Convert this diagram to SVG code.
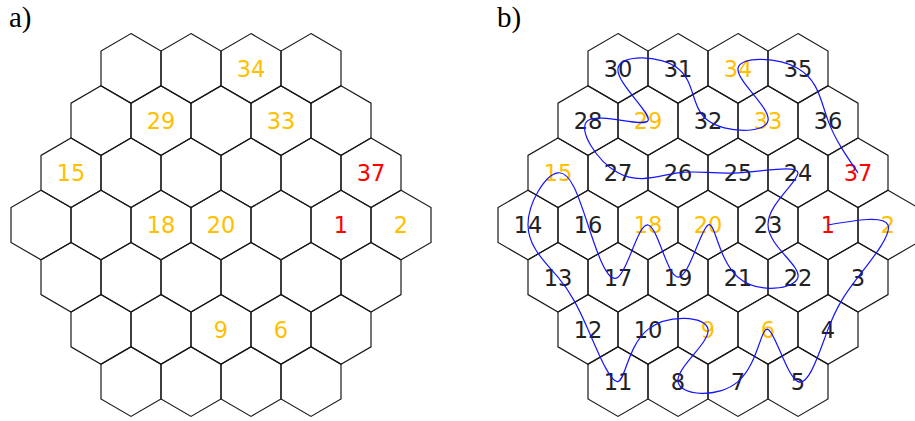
<svg xmlns="http://www.w3.org/2000/svg" xmlns:xlink="http://www.w3.org/1999/xlink" width="915" height="421" viewBox="0 0 915 421">
<style>
.h{fill:none;stroke:#1a1a1a;stroke-width:1.2;stroke-linejoin:miter}
.t{font-family:"DejaVu Sans",sans-serif;font-size:22.5px;text-anchor:middle;fill:#222}
.o{fill:#ffbf00}
.r{fill:#ff0000}
.lab{font-family:"Liberation Serif",serif;font-size:29px;fill:#000}
.c{fill:none;stroke:#1414ff;stroke-width:1.2}
</style>
<defs>
<polygon id="hex" class="h" points="0,-34.8 30,-17.4 30,17.4 0,34.8 -30,17.4 -30,-17.4"/>
</defs>
<rect width="915" height="421" fill="#fff"/>
<text class="lab" x="9" y="27">a)</text>
<text class="lab" x="497" y="27">b)</text>
<g id="gridA">
<g id="a1"><use href="#hex" x="131" y="68.4"/></g>
<g id="a2"><use href="#hex" x="191" y="68.4"/></g>
<g id="a3"><use href="#hex" x="251" y="68.4"/><text class="t o" x="251" y="76.7">34</text></g>
<g id="a4"><use href="#hex" x="311" y="68.4"/></g>
<g id="a5"><use href="#hex" x="101" y="120.6"/></g>
<g id="a6"><use href="#hex" x="161" y="120.6"/><text class="t o" x="161" y="128.9">29</text></g>
<g id="a7"><use href="#hex" x="221" y="120.6"/></g>
<g id="a8"><use href="#hex" x="281" y="120.6"/><text class="t o" x="281" y="128.9">33</text></g>
<g id="a9"><use href="#hex" x="341" y="120.6"/></g>
<g id="a10"><use href="#hex" x="71" y="172.8"/><text class="t o" x="71" y="181.1">15</text></g>
<g id="a11"><use href="#hex" x="131" y="172.8"/></g>
<g id="a12"><use href="#hex" x="191" y="172.8"/></g>
<g id="a13"><use href="#hex" x="251" y="172.8"/></g>
<g id="a14"><use href="#hex" x="311" y="172.8"/></g>
<g id="a15"><use href="#hex" x="371" y="172.8"/><text class="t r" x="371" y="181.1">37</text></g>
<g id="a16"><use href="#hex" x="41" y="225"/></g>
<g id="a17"><use href="#hex" x="101" y="225"/></g>
<g id="a18"><use href="#hex" x="161" y="225"/><text class="t o" x="161" y="233.3">18</text></g>
<g id="a19"><use href="#hex" x="221" y="225"/><text class="t o" x="221" y="233.3">20</text></g>
<g id="a20"><use href="#hex" x="281" y="225"/></g>
<g id="a21"><use href="#hex" x="341" y="225"/><text class="t r" x="341" y="233.3">1</text></g>
<g id="a22"><use href="#hex" x="401" y="225"/><text class="t o" x="401" y="233.3">2</text></g>
<g id="a23"><use href="#hex" x="71" y="277.2"/></g>
<g id="a24"><use href="#hex" x="131" y="277.2"/></g>
<g id="a25"><use href="#hex" x="191" y="277.2"/></g>
<g id="a26"><use href="#hex" x="251" y="277.2"/></g>
<g id="a27"><use href="#hex" x="311" y="277.2"/></g>
<g id="a28"><use href="#hex" x="371" y="277.2"/></g>
<g id="a29"><use href="#hex" x="101" y="329.4"/></g>
<g id="a30"><use href="#hex" x="161" y="329.4"/></g>
<g id="a31"><use href="#hex" x="221" y="329.4"/><text class="t o" x="221" y="337.7">9</text></g>
<g id="a32"><use href="#hex" x="281" y="329.4"/><text class="t o" x="281" y="337.7">6</text></g>
<g id="a33"><use href="#hex" x="341" y="329.4"/></g>
<g id="a34"><use href="#hex" x="131" y="381.6"/></g>
<g id="a35"><use href="#hex" x="191" y="381.6"/></g>
<g id="a36"><use href="#hex" x="251" y="381.6"/></g>
<g id="a37"><use href="#hex" x="311" y="381.6"/></g>
</g>
<g id="gridB">
<g id="b30"><use href="#hex" x="618" y="68.4"/><text class="t" x="618" y="76.7">30</text></g>
<g id="b31"><use href="#hex" x="678" y="68.4"/><text class="t" x="678" y="76.7">31</text></g>
<g id="b34"><use href="#hex" x="738" y="68.4"/><text class="t o" x="738" y="76.7">34</text></g>
<g id="b35"><use href="#hex" x="798" y="68.4"/><text class="t" x="798" y="76.7">35</text></g>
<g id="b28"><use href="#hex" x="588" y="120.6"/><text class="t" x="588" y="128.9">28</text></g>
<g id="b29"><use href="#hex" x="648" y="120.6"/><text class="t o" x="648" y="128.9">29</text></g>
<g id="b32"><use href="#hex" x="708" y="120.6"/><text class="t" x="708" y="128.9">32</text></g>
<g id="b33"><use href="#hex" x="768" y="120.6"/><text class="t o" x="768" y="128.9">33</text></g>
<g id="b36"><use href="#hex" x="828" y="120.6"/><text class="t" x="828" y="128.9">36</text></g>
<g id="b15"><use href="#hex" x="558" y="172.8"/><text class="t o" x="558" y="181.1">15</text></g>
<g id="b27"><use href="#hex" x="618" y="172.8"/><text class="t" x="618" y="181.1">27</text></g>
<g id="b26"><use href="#hex" x="678" y="172.8"/><text class="t" x="678" y="181.1">26</text></g>
<g id="b25"><use href="#hex" x="738" y="172.8"/><text class="t" x="738" y="181.1">25</text></g>
<g id="b24"><use href="#hex" x="798" y="172.8"/><text class="t" x="798" y="181.1">24</text></g>
<g id="b37"><use href="#hex" x="858" y="172.8"/><text class="t r" x="858" y="181.1">37</text></g>
<g id="b14"><use href="#hex" x="528" y="225"/><text class="t" x="528" y="233.3">14</text></g>
<g id="b16"><use href="#hex" x="588" y="225"/><text class="t" x="588" y="233.3">16</text></g>
<g id="b18"><use href="#hex" x="648" y="225"/><text class="t o" x="648" y="233.3">18</text></g>
<g id="b20"><use href="#hex" x="708" y="225"/><text class="t o" x="708" y="233.3">20</text></g>
<g id="b23"><use href="#hex" x="768" y="225"/><text class="t" x="768" y="233.3">23</text></g>
<g id="b1"><use href="#hex" x="828" y="225"/><text class="t r" x="828" y="233.3">1</text></g>
<g id="b2"><use href="#hex" x="888" y="225"/><text class="t o" x="888" y="233.3">2</text></g>
<g id="b13"><use href="#hex" x="558" y="277.2"/><text class="t" x="558" y="285.5">13</text></g>
<g id="b17"><use href="#hex" x="618" y="277.2"/><text class="t" x="618" y="285.5">17</text></g>
<g id="b19"><use href="#hex" x="678" y="277.2"/><text class="t" x="678" y="285.5">19</text></g>
<g id="b21"><use href="#hex" x="738" y="277.2"/><text class="t" x="738" y="285.5">21</text></g>
<g id="b22"><use href="#hex" x="798" y="277.2"/><text class="t" x="798" y="285.5">22</text></g>
<g id="b3"><use href="#hex" x="858" y="277.2"/><text class="t" x="858" y="285.5">3</text></g>
<g id="b12"><use href="#hex" x="588" y="329.4"/><text class="t" x="588" y="337.7">12</text></g>
<g id="b10"><use href="#hex" x="648" y="329.4"/><text class="t" x="648" y="337.7">10</text></g>
<g id="b9"><use href="#hex" x="708" y="329.4"/><text class="t o" x="708" y="337.7">9</text></g>
<g id="b6"><use href="#hex" x="768" y="329.4"/><text class="t o" x="768" y="337.7">6</text></g>
<g id="b4"><use href="#hex" x="828" y="329.4"/><text class="t" x="828" y="337.7">4</text></g>
<g id="b11"><use href="#hex" x="618" y="381.6"/><text class="t" x="618" y="389.9">11</text></g>
<g id="b8"><use href="#hex" x="678" y="381.6"/><text class="t" x="678" y="389.9">8</text></g>
<g id="b7"><use href="#hex" x="738" y="381.6"/><text class="t" x="738" y="389.9">7</text></g>
<g id="b5"><use href="#hex" x="798" y="381.6"/><text class="t" x="798" y="389.9">5</text></g>
</g>
<g id="connectors">
<path class="c" d="M828,225 C856,220.1 884.1,215.2 888,225 C891.9,234.8 871.8,259.3 858,277.2 C844.2,295.1 836.8,306.5 828,329.4 C819.2,352.3 809,386.5 798,381.6 C787,376.7 775.2,332.5 768,329.4 C760.8,326.3 758.2,364.3 738,381.6 C717.8,398.9 680,395.6 678,381.6 C676,367.6 710,343 708,329.4 C706,315.8 668.1,313.4 648,329.4 C627.9,345.4 625.5,379.9 618,381.6 C610.5,383.3 598,352.2 588,329.4 C578,306.6 570.5,292.1 558,277.2 C545.5,262.3 528.1,247 528,225 C527.9,203 545.3,174.4 558,172.8 C570.7,171.2 578.7,196.6 588,225 C597.3,253.4 607.7,284.7 618,277.2 C628.3,269.7 638.2,223.3 648,225 C657.8,226.7 667.3,276.5 678,277.2 C688.7,277.9 700.7,229.5 708,225 C715.3,220.5 718,260 738,277.2 C758,294.4 795.4,289.3 798,277.2 C800.6,265.1 768.4,246 768,225 C767.6,204 799.1,180.9 798,172.8 C796.9,164.7 763.1,171.4 738,172.8 C712.9,174.2 696.5,170.2 678,172.8 C659.5,175.4 638.8,184.4 618,172.8 C597.2,161.2 576.3,128.9 588,120.6 C599.7,112.3 643.9,127.9 648,120.6 C652.1,113.3 615.9,83 618,68.4 C620.1,53.8 660.4,54.9 678,68.4 C695.6,81.9 690.6,107.6 708,120.6 C725.4,133.6 765.3,133.7 768,120.6 C770.7,107.5 736.2,81 738,68.4 C739.8,55.8 777.7,57 798,68.4 C818.3,79.8 820.9,101.5 828,120.6 C835.1,139.7 846.5,156.2 858,172.8"/>
</g>
</svg>
